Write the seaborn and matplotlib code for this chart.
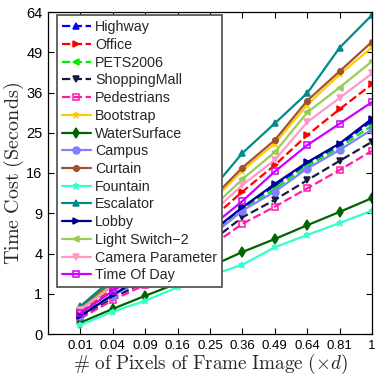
from matplotlib import pyplot as plt
import seaborn as sns
import numpy as np
import pandas as pd

# fraction of frame pixels (x) and time cost in seconds per sequence
frac = [0.01, 0.04, 0.09, 0.16, 0.25, 0.36, 0.49, 0.64, 0.81, 1.0]

names = ['Highway', 'Office', 'PETS2006', 'ShoppingMall', 'Pedestrians',
         'Bootstrap', 'WaterSurface', 'Campus', 'Curtain', 'Fountain',
         'Escalator', 'Lobby', 'Light Switch\u22122', 'Camera Parameter', 'Time Of Day']

highway = [0.22, 0.95, 2.1, 3.8, 6.2, 9.8, 13.6, 17.9, 22.0, 28.0]
office = [0.33, 1.3, 2.8, 4.9, 8.0, 12.5, 17.6, 24.4, 31.2, 38.5]
pets2006 = [0.22, 0.93, 2.0, 3.6, 6.0, 9.5, 13.0, 17.4, 21.5, 26.8]
shoppingmall = [0.18, 0.8, 1.7, 3.1, 5.2, 8.4, 11.1, 14.6, 18.5, 22.8]
pedestrians = [0.15, 0.71, 1.5, 2.8, 4.7, 7.5, 10.0, 13.1, 16.6, 20.7]
bootstrap = [0.40, 1.6, 3.6, 6.3, 10.5, 16.5, 22.4, 32.4, 41.6, 50.7]
watersurface = [0.08, 0.39, 0.9, 1.59, 2.8, 4.15, 5.57, 7.3, 9.2, 11.4]
campus = [0.21, 0.9, 1.95, 3.5, 5.8, 9.4, 12.5, 16.9, 20.9, 25.8]
curtain = [0.42, 1.7, 3.8, 6.6, 11.0, 17.1, 23.2, 33.6, 42.6, 52.7]
fountain = [0.05, 0.31, 0.68, 1.35, 2.1, 2.96, 4.64, 6.05, 7.6, 9.4]
escalator = [0.48, 1.9, 4.3, 7.6, 12.5, 20.2, 27.4, 35.8, 50.6, 62.8]
lobby = [0.20, 0.95, 2.1, 3.8, 6.3, 9.9, 13.9, 18.2, 22.4, 28.6]
lightswitch = [0.38, 1.5, 3.3, 5.8, 9.5, 14.8, 20.4, 30.3, 37.5, 45.9]
camparam = [0.36, 1.4, 3.1, 5.4, 8.8, 13.7, 18.7, 27.7, 34.4, 41.9]
timeofday = [0.27, 1.14, 2.4, 4.3, 7.0, 10.9, 16.3, 22.0, 27.3, 33.2]

series = [highway, office, pets2006, shoppingmall, pedestrians, bootstrap,
          watersurface, campus, curtain, fountain, escalator, lobby,
          lightswitch, camparam, timeofday]

xticks = [0.01, 0.04, 0.09, 0.16, 0.25, 0.36, 0.49, 0.64, 0.81, 1]
xticklabels = ['0.01', '0.04', '0.09', '0.16', '0.25', '0.36', '0.49', '0.64', '0.81', '1']
yticks = [0, 1, 4, 9, 16, 25, 36, 49, 64]

# styles (matlab-ish)
colors = ['#0000ff', '#ff0000', '#00ee00', '#1a1a40', '#ff1aaa',
          '#ffcc00', '#006400', '#8080ff', '#a0522d', '#33ffcc',
          '#008b8b', '#00008b', '#99cc55', '#ff99cc', '#cc00ff']
markers = ['^', '>', '<', 'v', 's', '*', 'd', 'o', 'o', '*', '^', '>', '<', 'v', 's']
styles = ['--'] * 5 + ['-'] * 10

sns.set_style("white")
plt.rcParams['font.family'] = ['Liberation Sans', 'DejaVu Sans']
plt.rcParams['mathtext.fontset'] = 'cm'

fig = plt.figure(figsize=(3.82, 3.78), dpi=100)
ax = fig.add_axes([48 / 382, 44 / 378, 324 / 382, 322 / 378])

for i, name in enumerate(names):
    d = pd.DataFrame({'x': frac, 'y': series[i]})
    mfc = 'none' if markers[i] == 's' else colors[i]
    ms = 4 if i == 8 else 5
    sns.lineplot(data=d, x='x', y='y', ax=ax, color=colors[i], linestyle=styles[i],
                 marker=markers[i], markersize=ms, markerfacecolor=mfc,
                 markeredgecolor=colors[i], markeredgewidth=1.1, linewidth=1.6,
                 label=name)

ax.set_xscale('function', functions=(np.sqrt, np.square))
ax.set_yscale('function', functions=(np.sqrt, np.square))
ax.set_xlim(0, 1)
ax.set_ylim(0, 64)
ax.set_xticks(xticks)
ax.set_xticklabels(xticklabels, fontsize=9.5)
ax.set_yticks(yticks)
ax.set_yticklabels([str(v) for v in yticks], fontsize=10.5)
ax.minorticks_off()
ax.tick_params(direction='in', length=4, width=0.8, top=True, right=True,
               bottom=True, left=True, pad=4, colors='black')
for sp in ax.spines.values():
    sp.set_color('black')
    sp.set_linewidth(0.9)

ax.set_xlabel(r'$\#\ \mathrm{of\ Pixels\ of\ Frame\ Image\ }(\times d)$', fontsize=13.8, labelpad=0)
ax.set_ylabel(r'$\mathrm{Time\ Cost\ (Seconds)}$', fontsize=14.5, labelpad=0)

leg = ax.legend(loc='upper left', bbox_to_anchor=(0.028, 0.99), fontsize=10.3,
                frameon=True, fancybox=False, framealpha=1, labelspacing=0.26,
                handlelength=2.0, handletextpad=0.3, borderpad=0.35, borderaxespad=0.0)
leg.get_frame().set_edgecolor('0.35')
leg.get_frame().set_linewidth(1.3)

fig.savefig('out.png', dpi=100)
